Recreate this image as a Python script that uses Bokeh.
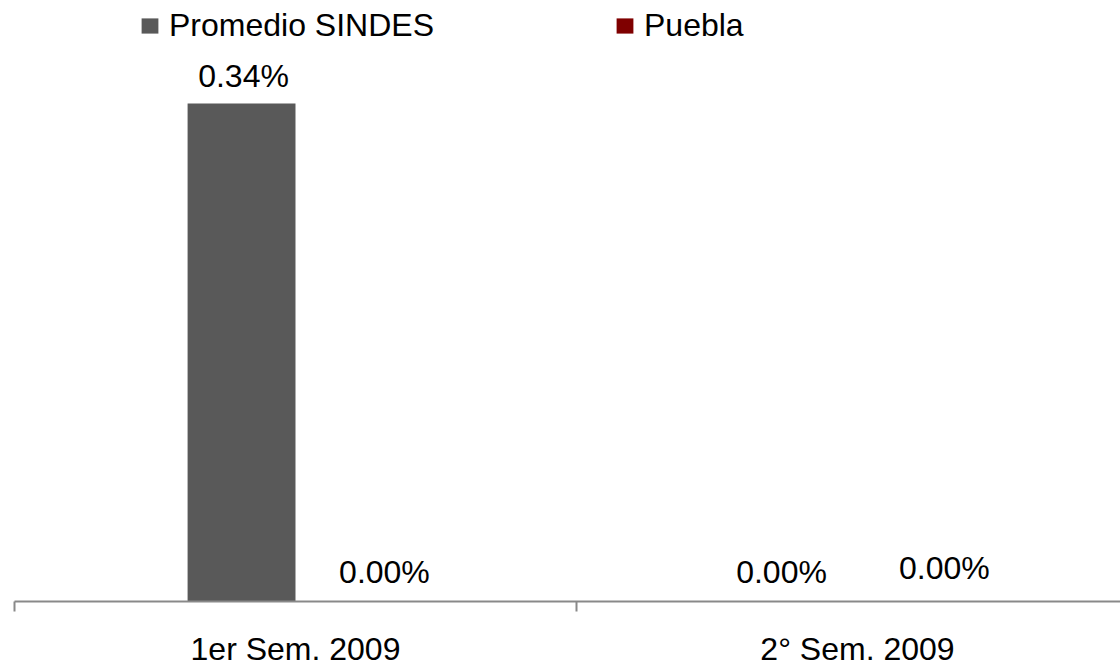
from bokeh.plotting import figure
from bokeh.models import (Range1d, FixedTicker, Legend, LegendItem,
                          ColumnDataSource, LabelSet)
from bokeh.core.properties import value
from bokeh.transform import dodge
from bokeh.embed import file_html
from bokeh.resources import INLINE

# ---- data ----
categories = ["1er Sem. 2009", "2° Sem. 2009"]
series_names = ["Promedio SINDES", "Puebla"]
promedio_sindes = [0.34, 0.00]
puebla = [0.00, 0.00]
colors = ["#595959", "#7F0000"]

FONT = "Liberation Sans"
FS = "32px"
AXIS_GRAY = "#898989"

centers = [i + 0.5 for i in range(len(categories))]
boundaries = [float(i) for i in range(len(categories) + 1)]
bar_w = 0.192

src = ColumnDataSource(dict(
    x=centers,
    promedio=promedio_sindes,
    puebla=puebla,
    promedio_lbl=[f"{v:.2f}%" for v in promedio_sindes],
    puebla_lbl=[f"{v:.2f}%" for v in puebla],
    # label nudges (screen px) as placed by the original chart
    promedio_dx=[2, -22],
    puebla_dx=[35, 33],
    promedio_dy=[16, 19],
    puebla_dy=[19, 23],
))

p = figure(width=1120, height=669,
           x_range=Range1d(0, 1.968), y_range=Range1d(0, 0.4103),
           output_backend="svg", toolbar_location=None,
           min_border_left=14, min_border_right=0,
           min_border_top=0, min_border_bottom=0)

r1 = p.vbar(x=dodge("x", -bar_w / 2, range=p.x_range), top="promedio",
            width=bar_w, source=src, fill_color=colors[0], line_color=None)
r2 = p.vbar(x=dodge("x", bar_w / 2, range=p.x_range), top="puebla",
            width=bar_w, source=src, fill_color=colors[1], line_color=None)

for col, lbl, dx, dy, sgn in [("promedio", "promedio_lbl", "promedio_dx", "promedio_dy", -1),
                              ("puebla", "puebla_lbl", "puebla_dx", "puebla_dy", 1)]:
    ls = LabelSet(x=dodge("x", sgn * bar_w / 2, range=p.x_range), y=col, text=lbl,
                  x_offset=dx, y_offset=dy, source=src,
                  text_align="center", text_baseline="alphabetic",
                  text_font=value(FONT), text_font_size=value(FS),
                  text_color="black")
    p.add_layout(ls)

# x axis: ticks on category boundaries, labels at category centres
ax = p.xaxis[0]
ax.ticker = FixedTicker(ticks=centers, minor_ticks=boundaries)
ax.major_label_overrides = {c: cat for c, cat in zip(centers, categories)}
ax.major_tick_in = 0
ax.major_tick_out = 0
ax.major_tick_line_color = None
ax.minor_tick_in = 0
ax.minor_tick_out = 10
ax.minor_tick_line_color = AXIS_GRAY
ax.minor_tick_line_width = 2
ax.axis_line_color = AXIS_GRAY
ax.axis_line_width = 2
ax.major_label_text_font = FONT
ax.major_label_text_font_size = FS
ax.major_label_text_color = "black"
ax.major_label_standoff = 19

p.yaxis.visible = False
p.xgrid.visible = False
p.ygrid.visible = False
p.outline_line_color = None

legend = Legend(items=[LegendItem(label=series_names[0], renderers=[r1]),
                       LegendItem(label=series_names[1], renderers=[r2])],
                orientation="horizontal", location=(125, 557),
                label_text_font=FONT, label_text_font_size=FS,
                label_text_color="black",
                glyph_width=21, glyph_height=19, label_standoff=9,
                spacing=180, padding=0, margin=0,
                border_line_color=None, background_fill_alpha=0)
p.add_layout(legend)

open("out.html", "w").write(file_html(p, INLINE))
